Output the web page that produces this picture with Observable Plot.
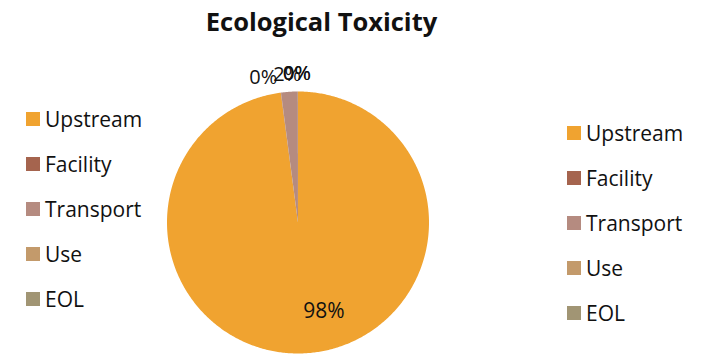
<!DOCTYPE html>
<html>
<head>
<meta charset="utf-8">
<script src="https://cdn.jsdelivr.net/npm/d3@7"></script>
<script src="https://cdn.jsdelivr.net/npm/@observablehq/plot@0.6"></script>
<style>
  html, body { margin: 0; padding: 0; background: #fff; }
  #wrap { position: relative; width: 717px; height: 357px; overflow: hidden; font-family: "Open Sans", Lato, sans-serif; color: #111; }
  #title { position: absolute; left: 0; width: 643px; top: 4px; text-align: center; font-weight: bold; font-size: 25.5px; }
  .legend { position: absolute; font-size: 21px; }
  .legend .row { position: absolute; left: 0; height: 28px; white-space: nowrap; display: flex; align-items: center; }
  .legend .sw { width: 14px; height: 14px; margin-right: 5px; }
</style>
</head>
<body>
<div id="wrap">
  <div id="chart"></div>
  <div id="title">Ecological Toxicity</div>
  <div class="legend" id="legL" style="left:26px; top:105px;"></div>
  <div class="legend" id="legR" style="left:567px; top:119px;"></div>
</div>
<script>
// Life-cycle stages and their share of ecological toxicity (%)
const stages = ["Upstream", "Facility", "Transport", "Use", "EOL"];
const shares = [97.9, 0.03, 2.05, 0.01, 0.01];
const colors = ["#f0a330", "#a5644e", "#b58b80", "#c39a6b", "#a19574"];

const total = d3.sum(shares);
// Slices run clockwise from 12 o'clock
const pie = d3.pie().sort(null).startAngle(0).endAngle(2 * Math.PI)(shares);

// Slice outlines in unit-circle coordinates (x right, y up)
const outline = [];
pie.forEach((p, i) => {
  const steps = Math.max(2, Math.ceil((p.endAngle - p.startAngle) / 0.01));
  outline.push({stage: stages[i], x: 0, y: 0});
  for (let k = 0; k <= steps; k++) {
    const a = p.startAngle + (p.endAngle - p.startAngle) * k / steps;
    outline.push({stage: stages[i], x: Math.sin(a), y: Math.cos(a)});
  }
});

// Percent labels: large slice inside, thin slices just outside the rim
const labels = pie.map((p, i) => {
  const mid = (p.startAngle + p.endAngle) / 2;
  const big = shares[i] / total > 0.5;
  const r = big ? 0.7 : 1.15;
  return {
    stage: stages[i],
    text: Math.round(shares[i] / total * 100) + "%",
    x: Math.sin(mid) * r,
    y: Math.cos(mid) * r,
    big
  };
});

const W = 717, H = 357, cx = 297.5, cy = 222, R = 131;

const chart = Plot.plot({
  width: W,
  height: H,
  margin: 0,
  x: {domain: [-cx / R, (W - cx) / R], range: [0, W], axis: null},
  y: {domain: [-(H - cy) / R, cy / R], range: [H, 0], axis: null},
  color: {domain: stages, range: colors},
  style: {fontFamily: "'Open Sans', Lato, sans-serif", background: "transparent"},
  marks: [
    Plot.line(outline, {x: "x", y: "y", z: "stage", fill: "stage", stroke: "none", curve: "linear-closed"}),
    Plot.text(labels.filter(d => d.big), {x: "x", y: "y", text: "text", dx: 20, dy: -3, fontSize: 21, fill: "#111"}),
    // the Facility label is nudged left of the crowded top cluster
    Plot.text(labels.filter(d => d.stage === "Facility"), {x: "x", y: "y", text: "text", dx: -15, dy: 4, fontSize: 20, fill: "#111"}),
    Plot.text(labels.filter(d => !d.big && d.stage !== "Facility"), {x: "x", y: "y", text: "text", dx: -1, dy: 2, fontSize: 20, fill: "#111"})
  ]
});
document.getElementById("chart").appendChild(chart);

// Two identical legends, one each side of the pie
function buildLegend(el) {
  stages.forEach((s, i) => {
    const row = document.createElement("div");
    row.className = "row";
    row.style.top = (i * 45) + "px";
    const sw = document.createElement("span");
    sw.className = "sw";
    sw.style.background = colors[i];
    const tx = document.createElement("span");
    tx.textContent = s;
    row.appendChild(sw);
    row.appendChild(tx);
    el.appendChild(row);
  });
}
buildLegend(document.getElementById("legL"));
buildLegend(document.getElementById("legR"));
</script>
</body>
</html>
